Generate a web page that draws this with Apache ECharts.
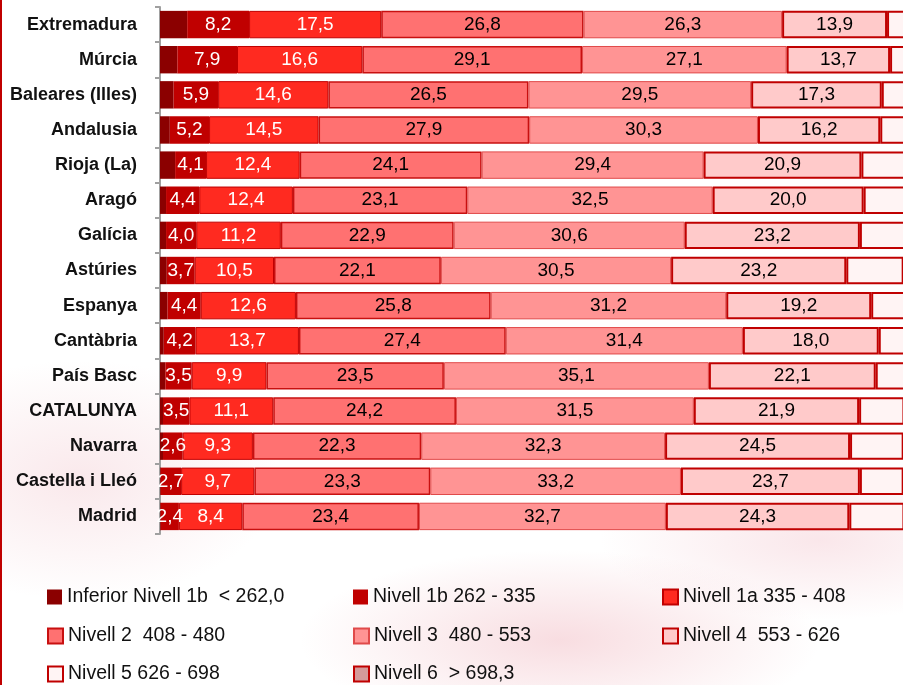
<!DOCTYPE html>
<html>
<head>
<meta charset="utf-8">
<script src="https://cdn.jsdelivr.net/npm/echarts@6/dist/echarts.min.js"></script>
<style>
  html, body { margin: 0; padding: 0; }
  body {
    width: 903px; height: 685px; overflow: hidden; position: relative;
    background:
      radial-gradient(ellipse 260px 90px at 560px 640px, rgba(238,170,180,0.40), rgba(255,255,255,0) 100%),
      radial-gradient(ellipse 200px 120px at 80px 480px, rgba(240,190,198,0.35), rgba(255,255,255,0) 100%),
      radial-gradient(ellipse 220px 80px at 820px 540px, rgba(240,185,195,0.35), rgba(255,255,255,0) 100%),
      #ffffff;
  }
  #chart { width: 903px; height: 685px; position: absolute; left: 0; top: 0; }
  #edge { position: absolute; left: 0; top: 0; width: 2px; height: 685px; background: #c00000; }
</style>
</head>
<body>
<div id="chart"></div>
<div id="edge"></div>
<script>
const categories = ['Extremadura','Múrcia','Baleares (Illes)','Andalusia','Rioja (La)','Aragó','Galícia','Astúries','Espanya','Cantàbria','País Basc','CATALUNYA','Navarra','Castella i Lleó','Madrid'];
const inferior1b = [3.6, 2.3, 1.8, 1.3, 2.0, 0.8, 0.8, 0.9, 1.0, 0.5, 0.7, 0.4, 0.4, 0.1, 0.1];
const nivell1b   = [8.2, 7.9, 5.9, 5.2, 4.1, 4.4, 4.0, 3.7, 4.4, 4.2, 3.5, 3.5, 2.6, 2.7, 2.4];
const nivell1a   = [17.5, 16.6, 14.6, 14.5, 12.4, 12.4, 11.2, 10.5, 12.6, 13.7, 9.9, 11.1, 9.3, 9.7, 8.4];
const nivell2    = [26.8, 29.1, 26.5, 27.9, 24.1, 23.1, 22.9, 22.1, 25.8, 27.4, 23.5, 24.2, 22.3, 23.3, 23.4];
const nivell3    = [26.3, 27.1, 29.5, 30.3, 29.4, 32.5, 30.6, 30.5, 31.2, 31.4, 35.1, 31.5, 32.3, 33.2, 32.7];
const nivell4    = [13.9, 13.7, 17.3, 16.2, 20.9, 20.0, 23.2, 23.2, 19.2, 18.0, 22.1, 21.9, 24.5, 23.7, 24.3];
const nivell5    = [3.3, 3.0, 3.8, 4.0, 6.1, 5.6, 6.1, 7.6, 4.5, 4.0, 4.2, 6.0, 7.1, 5.8, 7.3];
const nivell6    = [0.4, 0.3, 0.6, 0.6, 1.0, 1.2, 1.2, 1.5, 1.3, 0.8, 1.0, 1.4, 1.5, 1.5, 1.4];
const seriesNames = ['Inferior Nivell 1b  < 262,0','Nivell 1b 262 - 335','Nivell 1a 335 - 408','Nivell 2  408 - 480','Nivell 3  480 - 553','Nivell 4  553 - 626','Nivell 5 626 - 698','Nivell 6  > 698,3'];

const FONT = "'Liberation Sans', Arial, sans-serif";
const seriesData = [inferior1b, nivell1b, nivell1a, nivell2, nivell3, nivell4, nivell5, nivell6];
const styles = [
  { color: '#8b0000', borderColor: '#8b0000', borderWidth: 0, label: null },
  { color: '#c00000', borderColor: '#c00000', borderWidth: 0, label: '#ffffff' },
  { color: '#ff2a20', borderColor: '#c00000', borderWidth: 1, label: '#ffffff' },
  { color: '#ff7171', borderColor: '#c81010', borderWidth: 1.5, label: '#000000' },
  { color: '#ff9494', borderColor: '#e04a4a', borderWidth: 1, label: '#000000' },
  { color: '#ffcaca', borderColor: '#c00000', borderWidth: 2, label: '#000000' },
  { color: '#fff4f4', borderColor: '#c00000', borderWidth: 2, label: null },
  { color: '#d49a9a', borderColor: '#c00000', borderWidth: 2, label: null }
];

const series = seriesNames.map((name, i) => ({
  name: name,
  type: 'bar',
  stack: 'total',
  barCategoryGap: '22%',
  data: seriesData[i],
  itemStyle: { color: styles[i].color, borderColor: styles[i].borderColor, borderWidth: styles[i].borderWidth },
  label: {
    show: !!styles[i].label,
    position: 'inside',
    color: styles[i].label || '#000',
    fontFamily: FONT,
    fontSize: 19,
    formatter: p => p.value.toFixed(1).replace('.', ',')
  },
  emphasis: { disabled: true },
  animation: false
}));

// legend grid: column x positions and row tops
const legendCols = [47, 353, 662];
const legendRows = [587, 626, 664];
const legends = seriesNames.map((name, i) => ({
  orient: 'horizontal',
  left: legendCols[i % 3],
  top: legendRows[Math.floor(i / 3)],
  padding: 0,
  icon: 'rect',
  itemWidth: 15,
  itemHeight: 15,
  itemTextGap: 3,
  selectedMode: false,
  data: [name],
  textStyle: { fontFamily: FONT, fontSize: 19.5, color: '#111', lineHeight: 20 }
}));

const chart = echarts.init(document.getElementById('chart'), null, { renderer: 'canvas' });
chart.setOption({
  backgroundColor: 'transparent',
  animation: false,
  grid: { left: 160, right: -12, top: 7, bottom: 151, containLabel: false, outerBoundsMode: 'none' },
  xAxis: { type: 'value', min: 0, max: 100, show: false },
  yAxis: {
    type: 'category',
    data: categories,
    inverse: true,
    offset: 3,
    axisLine: { show: true, lineStyle: { color: '#a0a0a0', width: 2 } },
    axisTick: { show: true, length: 5, lineStyle: { color: '#a0a0a0', width: 2 } },
    axisLabel: { fontFamily: FONT, fontSize: 18, fontWeight: 'bold', color: '#111', margin: 20 },
    splitLine: { show: false }
  },
  legend: legends,
  series: series
});
</script>
</body>
</html>
